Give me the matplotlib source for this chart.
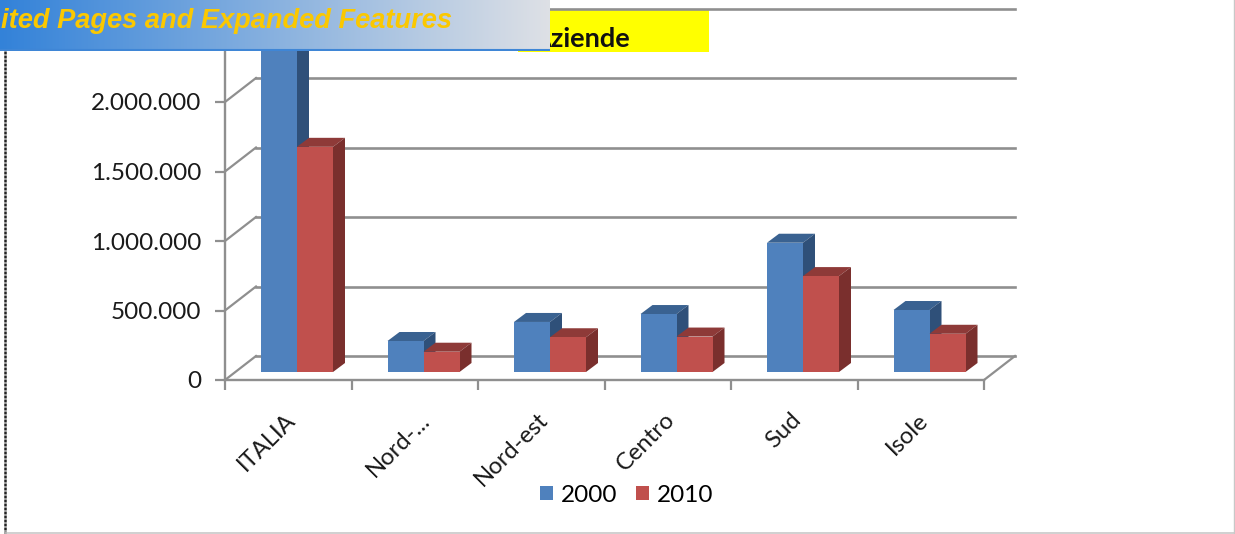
import matplotlib
matplotlib.use("Agg")
import matplotlib.pyplot as plt
from matplotlib.patches import Polygon, Rectangle
from matplotlib.transforms import ScaledTranslation
import numpy as np

W, H = 1235, 534

# Data
categories = ["ITALIA", "Nord-...", "Nord-est", "Centro", "Sud", "Isole"]
values_2000 = [2396000, 223000, 360000, 417000, 930000, 446000]
values_2010 = [1620000, 146000, 250000, 255000, 690000, 275000]
y_ticks = [0, 500000, 1000000, 1500000, 2000000, 2500000]
y_labels = ["0", "500.000", "1.000.000", "1.500.000", "2.000.000", ""]

# Pixel geometry of the fake 3D box
left, right, base, top = 225, 984, 380, 32.5
x_px = (right - left) / 6.0
y_px = (base - top) / 2500000.0

BLUE = ("#4f81bd", "#3a6291", "#2f5079")
RED = ("#c0504d", "#8e3a38", "#7a2f2d")
GRAY = "#8f8f8f"

plt.rcParams['font.family'] = ['Lato', 'DejaVu Sans']

fig = plt.figure(figsize=(W / 100, H / 100), dpi=100, facecolor="white")
ax = fig.add_axes([left / W, 1 - base / H, (right - left) / W, (base - top) / H], zorder=2)
ax.patch.set_visible(False)
ax.set_xlim(0, 6)
ax.set_ylim(0, 2500000)

# box depth and bar depth, in data units
depth_x, depth_y = 31 / x_px, 24 / y_px
bar_dx, bar_dy = 12 / x_px, 9 / y_px
lift = 8 / y_px
bar_w = 36 / x_px

# floor edges and back wall gridlines
for t in y_ticks:
    ax.plot([0, depth_x], [t, t + depth_y], color=GRAY, lw=1.6, clip_on=False, zorder=1)
    ax.plot([depth_x, 6 + depth_x], [t + depth_y, t + depth_y], color=GRAY, lw=1.9,
            clip_on=False, zorder=1)
ax.plot([6, 6 + depth_x], [0, depth_y], color=GRAY, lw=1.6, clip_on=False, zorder=1)


def draw_bars(xs, vals, cols, label, z):
    ax.bar(xs, vals, bar_w, bottom=lift, align="edge", color=cols[0], linewidth=0,
           label=label, zorder=z + 0.2, clip_on=False)
    for x, v in zip(xs, vals):
        t = v + lift
        ax.add_patch(Polygon([(x, t), (x + bar_w, t), (x + bar_w + bar_dx, t + bar_dy), (x + bar_dx, t + bar_dy)],
                             closed=True, fc=cols[1], ec="none", zorder=z, clip_on=False))
        ax.add_patch(Polygon([(x + bar_w, lift), (x + bar_w + bar_dx, lift + bar_dy),
                              (x + bar_w + bar_dx, t + bar_dy), (x + bar_w, t)],
                             closed=True, fc=cols[2], ec="none", zorder=z, clip_on=False))


pos = np.arange(len(categories))
draw_bars(pos + 36 / x_px, values_2000, BLUE, "2000", 3)
draw_bars(pos + 72 / x_px, values_2010, RED, "2010", 4)

# axes
for s in ("top", "right"):
    ax.spines[s].set_visible(False)
for s in ("left", "bottom"):
    ax.spines[s].set_color(GRAY)
    ax.spines[s].set_linewidth(1.7)
ax.set_yticks(y_ticks)
ax.set_yticklabels(y_labels, fontsize=17.5, color="#1a1a1a")
ax.tick_params(axis="y", length=7, width=1.6, color=GRAY, pad=10)
ax.set_xticks(np.arange(7))
ax.set_xticklabels([])
ax.tick_params(axis="x", length=7, width=1.6, color=GRAY)
ax.set_xticks(pos + 0.5, minor=True)
labels = ax.set_xticklabels(categories, minor=True, rotation=45, ha="right", rotation_mode="anchor",
                            fontsize=17.2, color="#1a1a1a")
ax.tick_params(axis="x", which="minor", length=0, pad=21)
# nudge the rotated labels onto their places
for lbl in labels:
    shift = 4 if lbl.get_text() == "Nord-..." else -4
    lbl.set_transform(lbl.get_transform() + ScaledTranslation(shift / 100, 0, fig.dpi_scale_trans))

ax.legend(loc="center", bbox_to_anchor=(626.5 / W, 1 - 495 / H), bbox_transform=fig.transFigure,
          ncol=2, frameon=False, fontsize=17.5, handlelength=0.53, handleheight=0.53,
          handletextpad=0.33, columnspacing=0.78, borderpad=0)

# yellow title box behind the chart
fig.add_artist(Rectangle((518 / W, 1 - 52 / H), 191 / W, 42 / H, transform=fig.transFigure,
                         fc="#ffff00", ec="none", zorder=1))
fig.text(630 / W, 1 - 47 / H, "Aziende", ha="right", va="baseline", fontsize=19.5, fontweight="bold",
         color="#111111", zorder=1.5)

# page frame
fig.add_artist(plt.Line2D([5 / W, 5 / W], [0, 1], color="#222222", lw=1.8, ls=(0, (1.2, 0.4)),
                          transform=fig.transFigure, zorder=5))
fig.add_artist(plt.Line2D([5 / W, 1], [1 / H, 1 / H], color="#c8c8c8", lw=1.2,
                          transform=fig.transFigure, zorder=5))
fig.add_artist(plt.Line2D([1234 / W, 1234 / W], [0, 1], color="#c8c8c8", lw=1.0,
                          transform=fig.transFigure, zorder=5))

# banner on top of everything
ban = fig.add_axes([0, 1 - 51 / H, 550 / W, 51 / H], zorder=10)
ban.set_axis_off()
grad = np.linspace(0, 1, 256).reshape(1, -1, 1)
c0, c1 = np.array([0.20, 0.51, 0.85]), np.array([0.87, 0.88, 0.90])
ban.imshow(c0 + (c1 - c0) * grad, extent=(0, 550, 49, 0), aspect="auto", interpolation="bilinear")
ban.set_xlim(0, 550)
ban.set_ylim(51, 0)
ban.plot([0, 550], [49.5, 49.5], color="#3f86d6", lw=1.5)
ban.text(1, 28, "ited Pages and Expanded Features", ha="left", va="baseline", fontsize=19.6,
         family="Liberation Sans", style="italic", fontweight="bold", color="#fbc800")

fig.savefig("out.png", dpi=100)
